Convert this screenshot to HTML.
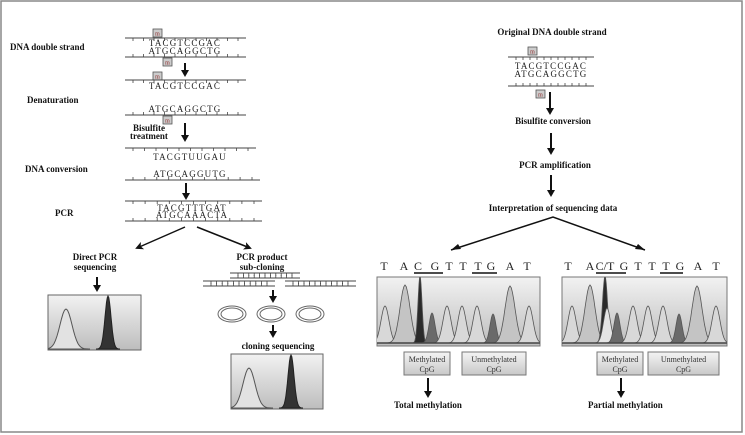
<!DOCTYPE html>
<html><head><meta charset="utf-8">
<style>
html,body{margin:0;padding:0;background:#fff;}
svg{display:block;}
.lb{font-family:"Liberation Serif",serif;font-weight:bold;font-size:9px;fill:#111;}
.sq{font-family:"Liberation Serif",serif;font-size:9px;fill:#222;letter-spacing:1.2px;}
.bs{font-family:"Liberation Serif",serif;font-size:12px;fill:#222;}
.sm{font-family:"Liberation Serif",serif;font-size:8px;fill:#333;}
</style></head>
<body>
<svg id="fig" width="745" height="435" viewBox="0 0 745 435" xmlns="http://www.w3.org/2000/svg">
<defs>
<linearGradient id="bg" x1="0" y1="0" x2="0" y2="1"><stop offset="0" stop-color="#f2f2f2"/><stop offset="1" stop-color="#bdbdbd"/></linearGradient>
<linearGradient id="lbg" x1="0" y1="0" x2="0" y2="1"><stop offset="0" stop-color="#f4f4f4"/><stop offset="1" stop-color="#c8c8c8"/></linearGradient>
<marker id="ah" markerWidth="8" markerHeight="8" refX="6" refY="4" orient="auto" markerUnits="userSpaceOnUse"><path d="M0,0 L8,4 L0,8 L2,4z" fill="#111"/></marker>
</defs>
<rect x="1" y="1" width="741" height="431" fill="#fff" stroke="#888" stroke-width="1.5"/>

<g>
<text class="lb" x="10" y="50">DNA double strand</text>
<g id="strands"></g>
<text class="lb" x="27" y="103">Denaturation</text>
<text class="lb" x="133" y="131" font-size="7">Bisulfite</text>
<text class="lb" x="130" y="139" font-size="7">treatment</text>
<text class="lb" x="25" y="172">DNA conversion</text>
<text class="lb" x="55" y="216">PCR</text>
<text class="lb" x="95" y="260" text-anchor="middle">Direct PCR</text>
<text class="lb" x="95" y="270" text-anchor="middle">sequencing</text>
<text class="lb" x="262" y="260" text-anchor="middle">PCR product</text>
<text class="lb" x="262" y="270" text-anchor="middle">sub-cloning</text>
<text class="lb" x="278" y="349" text-anchor="middle">cloning sequencing</text>
<line x1="185" y1="227" x2="137" y2="248" stroke="#111" stroke-width="1.5" marker-end="url(#ah)"/>
<line x1="197" y1="227" x2="250" y2="248" stroke="#111" stroke-width="1.5" marker-end="url(#ah)"/>
<g fill="none" stroke="#666">
<ellipse cx="232" cy="314" rx="14" ry="8"/><ellipse cx="232" cy="314" rx="11" ry="6"/>
<ellipse cx="271" cy="314" rx="14" ry="8"/><ellipse cx="271" cy="314" rx="11" ry="6"/>
<ellipse cx="310" cy="314" rx="14" ry="8"/><ellipse cx="310" cy="314" rx="11" ry="6"/>
</g>
<g id="leftchrom"></g>
</g>

<g>
<text class="lb" x="552" y="35" text-anchor="middle">Original DNA double strand</text>
<text class="lb" x="553" y="124" text-anchor="middle">Bisulfite conversion</text>
<text class="lb" x="555" y="168" text-anchor="middle">PCR amplification</text>
<text class="lb" x="553" y="211" text-anchor="middle">Interpretation of sequencing data</text>
<polyline points="451,250 553,217 645,250" fill="none" stroke="#111" stroke-width="1.5"/>
<path d="M451,250 l10,-1 l-3,-5z M645,250 l-10,-1 l3,-5z" fill="#111"/>
<text class="lb" x="394" y="408">Total methylation</text>
<text class="lb" x="588" y="408">Partial methylation</text>
<g id="rightchrom"></g>
</g>
</svg>
<script>
// Chromatogram data
const leftPeakPos = [385, 405, 420, 432, 447, 462, 477, 493, 510, 529];
const leftPeakHeight = [37, 58, 67, 30, 37, 37, 37, 29, 57, 37];
const leftPeakShade = ['#d8d8d8','#c4c4c4','#2a2a2a','#6a6a6a','#d8d8d8','#d8d8d8','#d8d8d8','#6a6a6a','#c4c4c4','#d8d8d8'];
const leftPeakWidth = [4,5,2,3,4,4,4,3,5,4];
const rightPeakPos = [572, 590, 605, 607, 617, 633, 648, 663, 679, 697, 716];
const rightPeakHeight = [37, 58, 67, 35, 30, 37, 37, 37, 29, 57, 37];
const rightPeakShade = ['#d8d8d8','#c4c4c4','#2a2a2a','#e4e4e4','#6a6a6a','#d8d8d8','#d8d8d8','#d8d8d8','#6a6a6a','#c4c4c4','#d8d8d8'];
const rightPeakWidth = [4,5,2.5,3.5,3,4,4,4,3,5,4];
const seqLeft = ['T','A','C','G','T','T','T','G','A','T'];
const seqRight = ['T','A','C/T','G','T','T','T','G','A','T'];
// simple electropherogram peaks: offset from box left, height
const simplePeakOffset = [18, 60];
const simplePeakHeight = [40, 53];

const NS='http://www.w3.org/2000/svg';
function mk(tag, attrs, parent){const e=document.createElementNS(NS,tag);for(const k in attrs)e.setAttribute(k,attrs[k]);parent.appendChild(e);return e;}
function peakPath(cx,h,s,base){let d='M'+(cx-4*s)+','+base;for(let i=-4;i<=4;i+=0.25){d+=' L'+(cx+i*s).toFixed(1)+','+(base-h*Math.exp(-i*i/2)).toFixed(1);}return d+' Z';}
let clipN=0;
function clip(g,x,y,w,h){const id='c'+(clipN++);const defs=document.querySelector('defs');const cp=mk('clipPath',{id:id},defs);mk('rect',{x:x,y:y,width:w,height:h},cp);return mk('g',{'clip-path':'url(#'+id+')'},g);}

function chrom(g, x, y, w, h, pos, hts, shades, wds, seq, seqX, ulines, labels){
  const r=mk('rect',{x:x,y:y,width:w,height:h,fill:'url(#bg)',stroke:'#777'},g);
  
  
  const cg=clip(g,x,y,w,h);
  const base=y+h-3;
  pos.forEach((p,i)=>{
    const pk=mk('path',{d:peakPath(p,hts[i],wds[i],base),fill:shades[i],stroke:'#555','stroke-width':'0.8'},cg);
    
    
  });
  mk('line',{x1:x,y1:base,x2:x+w,y2:base,stroke:'#444','stroke-width':'1.5'},g);
  seq.forEach((c,i)=>{
    const t=mk('text',{x:seqX[i],y:270,class:'bs','text-anchor':'middle'},g);t.textContent=c;
    
    
  });
  ulines.forEach(u=>mk('line',{x1:u[0],y1:273,x2:u[1],y2:273,stroke:'#111','stroke-width':'1.5'},g));
  labels.forEach(l=>{
    const b=mk('rect',{x:l[0],y:352,width:l[1],height:23,fill:'url(#lbg)',stroke:'#777'},g);
    
    
    const t1=mk('text',{x:l[0]+l[1]/2,y:362,class:'sm','text-anchor':'middle'},g);t1.textContent=l[2];
    const t2=mk('text',{x:l[0]+l[1]/2,y:372,class:'sm','text-anchor':'middle'},g);t2.textContent='CpG';
  });
}
function arrow(g,x,y1,y2,name){
  const l=mk('line',{x1:x,y1:y1,x2:x,y2:y2-5,stroke:'#111','stroke-width':'2'},g);
  
  
  mk('path',{d:`M${x-4},${y2-7} L${x},${y2} L${x+4},${y2-7}z`,fill:'#111'},g);
}
const lc=document.getElementById('leftchrom'), rc=document.getElementById('rightchrom'), st=document.getElementById('strands');
chrom(rc,377,277,163,69,leftPeakPos,leftPeakHeight,leftPeakShade,leftPeakWidth,seqLeft,[384,404,418,435,449,463,478,491,510,527],[[414,443],[472,497]],[[404,46,'Methylated'],[462,64,'Unmethylated']]);
chrom(rc,562,277,165,69,rightPeakPos,rightPeakHeight,rightPeakShade,rightPeakWidth,seqRight,[568,590,605,624,638,652,666,680,698,716],[[596,626],[660,683]],[[597,46,'Methylated'],[648,71,'Unmethylated']]);
arrow(rc,428,378,398,'arrow-total');
arrow(rc,621,378,398,'arrow-partial');
arrow(rc,550,92,115,'arrow-r1');
arrow(rc,551,133,155,'arrow-r2');
arrow(rc,551,175,197,'arrow-r3');

function simple(g,x,y,w,h){
  const r=mk('rect',{x:x,y:y,width:w,height:h,fill:'url(#bg)',stroke:'#666'},g);
  
  
  const cg=clip(g,x,y,w,h);
  const base=y+h-1;
  const p1=mk('path',{d:peakPath(x+simplePeakOffset[0],simplePeakHeight[0],6,base),fill:'#e2e2e2',stroke:'#555'},cg);
  
  
  const p2=mk('path',{d:peakPath(x+simplePeakOffset[1],simplePeakHeight[1],3,base),fill:'#333',stroke:'#222'},cg);
  
  
}
simple(lc,48,295,93,55);
simple(lc,231,354,92,55);
arrow(lc,97,277,292,'arrow-direct-seq');
arrow(lc,273,290,303,'arrow-to-plasmids');
arrow(lc,273,325,338,'arrow-to-cloning');

function strand(g,x1,x2,y,tickDir){
  const l=mk('line',{x1:x1,y1:y,x2:x2,y2:y,stroke:'#444','stroke-width':'1'},g);
  
  
  const n=11;for(let i=0;i<n;i++){const xx=x1+8+i*(x2-x1-16)/(n-1);mk('line',{x1:xx,y1:y,x2:xx,y2:y+tickDir*3,stroke:'#444','stroke-width':'0.8'},g);}
}
function seqText(g,x,y,s,ls){const t=mk('text',{x:x,y:y,class:'sq','text-anchor':'middle'},g);t.setAttribute('letter-spacing',ls||'1.2');t.textContent=s;}
function mbox(g,x,y){const b=mk('rect',{x:x,y:y,width:9,height:8,fill:'#ccc',stroke:'#555','stroke-width':'0.8'},g);const t=mk('text',{x:x+4.5,y:y+6.5,'font-size':'6','text-anchor':'middle','font-family':'Liberation Serif,serif',fill:'#822'},g);t.textContent='m';}
mbox(st,153,29);strand(st,125,246,38,1);seqText(st,185,46,'TACGTCCGAC');seqText(st,185,54,'ATGCAGGCTG');strand(st,125,246,57,-1);mbox(st,163,58);
arrow(st,185,63,77,'arrow-denature');
mbox(st,153,72);strand(st,125,246,80,1);seqText(st,185,89,'TACGTCCGAC');
seqText(st,185,112,'ATGCAGGCTG');strand(st,125,246,115,-1);mbox(st,163,116);
arrow(st,185,123,142,'arrow-bisulfite');
strand(st,125,256,148,1);seqText(st,190,160,'TACGTUUGAU','2');
seqText(st,190,177,'ATGCAGGUTG','2');strand(st,125,260,180,-1);
arrow(st,186,183,200,'arrow-pcr');
strand(st,125,262,201,1);seqText(st,192,211,'TACGTTTGAT','3');seqText(st,192,218,'ATGCAAACTA','3');strand(st,125,262,221,-1);
[[230,300,275],[203,275,283],[285,356,283]].forEach(a=>{strand(st,a[0],a[1],a[2]-2,1);strand(st,a[0],a[1],a[2]+3,-1);});
mbox(st,528,47);strand(st,508,594,57,1);seqText(st,551,69,'TACGTCCGAC','0.5');seqText(st,551,77,'ATGCAGGCTG','0.5');strand(st,508,594,86,-1);mbox(st,536,90);
</script>
</body></html>
